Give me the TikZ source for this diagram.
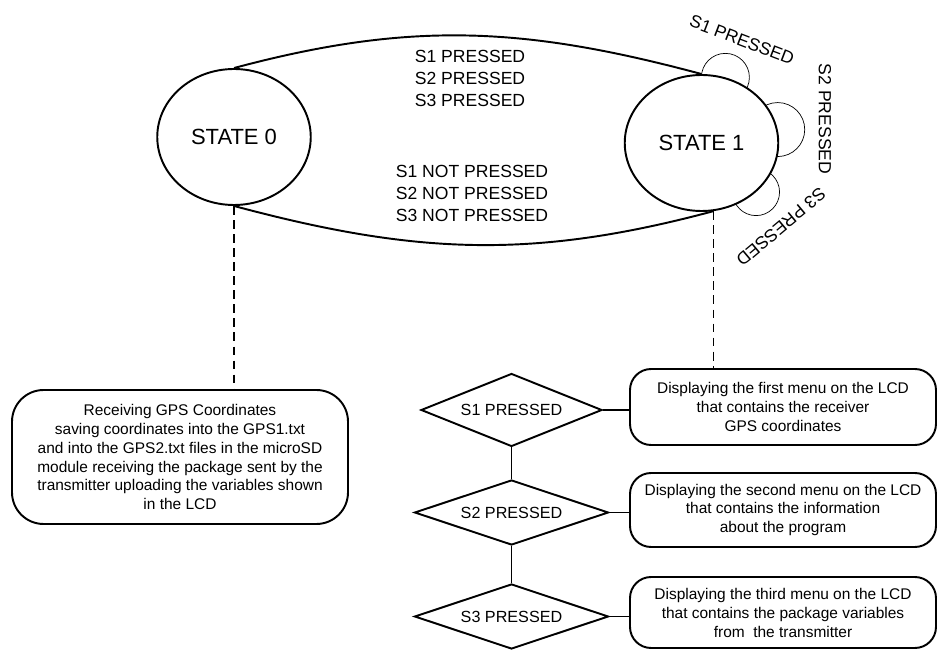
\documentclass[tikz,border=0pt]{standalone}
\usepackage{fontspec}
\setmainfont{Liberation Sans}
\usetikzlibrary{shapes.geometric, backgrounds}

\begin{document}
\begin{tikzpicture}[
    line width=1.1pt,
    every node/.style={font=\fontsize{10}{12.5}\selectfont},
    state/.style={draw, ellipse, fill=white, inner sep=0pt, minimum width=3.07cm, minimum height=2.72cm, font=\fontsize{12.5}{14}\selectfont},
    choice/.style={draw, diamond, aspect=3, inner sep=0pt, minimum width=3.88cm, minimum height=1.3cm, font=\fontsize{9.2}{11}\selectfont},
    menubox/.style={draw, rounded corners=12pt, minimum width=6.12cm, align=center, font=\fontsize{8.8}{10.8}\selectfont},
    loopname/.style={inner sep=0.5pt},
    guide/.style={line width=0.7pt, dash pattern=on 5pt off 3pt}
]
\useasboundingbox (0,0) rectangle (18.76,-13);

% States
\node[state] (s0) at (4.68,-2.74) {STATE 0};
\node[state] (s1) at (14.03,-2.86) {STATE 1};

% Self loops of state 1
\begin{scope}[on background layer]
\draw (s1.70) circle (0.48cm);
\draw (s1.10) circle (0.54cm);
\draw (s1.-42) circle (0.47cm);
\end{scope}
\node[loopname, rotate=-21] (l1) at (14.84,-0.8) {S1 PRESSED};
\node[loopname, rotate=-90] (l2) at (16.5,-2.38) {S2 PRESSED};
\node[loopname, rotate=220] (l3) at (15.62,-4.54) {S3 PRESSED};

% Transitions between the states
\draw (s0.north) to[out=15, in=165] (s1.north);
\draw (s0.south) to[out=-15, in=-165] (s1.-80);
\node[align=center] (up) at (9.4,-1.56) {S1 PRESSED\\S2 PRESSED\\S3 PRESSED};
\node[align=center] (down) at (9.44,-3.86) {S1 NOT PRESSED\\S2 NOT PRESSED\\S3 NOT PRESSED};

% State 0 task
\node[menubox, rounded corners=18pt, minimum width=6.72cm, minimum height=2.68cm] (gps) at (3.6,-9.14) {%
    Receiving GPS Coordinates\\
    saving coordinates into the GPS1.txt\\
    and into the GPS2.txt files in the microSD\\
    module receiving the package sent by the\\
    transmitter uploading the variables shown\\
    in the LCD};
\draw[guide] (s0.south) -- (s0.south |- gps.north);

% State 1 menus
\node[choice, minimum width=3.62cm, minimum height=1.46cm] (d1) at (10.23,-8.2) {S1 PRESSED};
\node[choice] (d2) at (10.23,-10.25) {S2 PRESSED};
\node[choice] (d3) at (10.23,-12.33) {S3 PRESSED};

\node[menubox, minimum height=1.52cm] (m1) at (15.66,-8.14) {%
    Displaying the first menu on the LCD\\
    that contains the receiver\\
    GPS coordinates};
\node[menubox, minimum height=1.48cm] (m2) at (15.66,-10.2) {%
    Displaying the second menu on the LCD\\
    that contains the information\\
    about the program};
\node[menubox, minimum height=1.42cm] (m3) at (15.66,-12.25) {%
    Displaying the third menu on the LCD\\
    that contains the package variables\\
    from \ the transmitter};

\draw[guide] (s1.-80) -- (s1.-80 |- m1.north);
\draw (d1.south) -- (d2.north);
\draw (d2.south) -- (d3.north);
\draw (d1.east) -- (d1.east -| m1.west);
\draw (d2.east) -- (d2.east -| m2.west);
\draw (d3.east) -- (d3.east -| m3.west);

\end{tikzpicture}
\end{document}
